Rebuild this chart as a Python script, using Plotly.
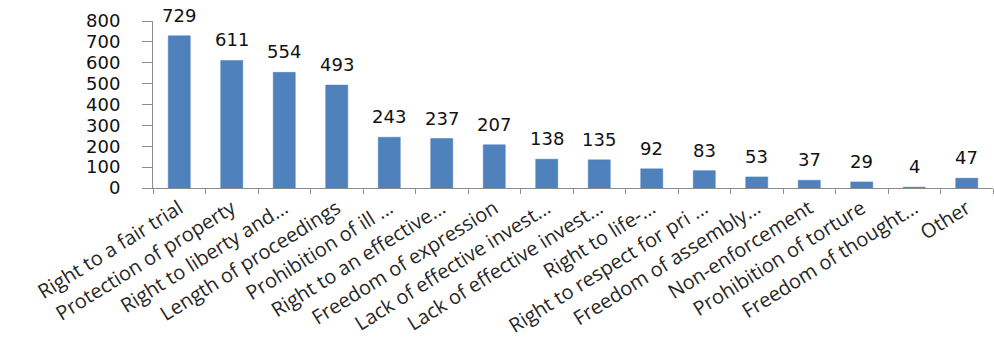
import plotly.graph_objects as go

categories = [
    "Right to a fair trial",
    "Protection of property",
    "Right to liberty and...",
    "Length of proceedings",
    "Prohibition of ill ...",
    "Right to an effective...",
    "Freedom of expression",
    "Lack of effective invest...",
    "Lack of effective invest...",
    "Right to life-...",
    "Right to respect for pri ...",
    "Freedom of assembly...",
    "Non-enforcement",
    "Prohibition of torture",
    "Freedom of thought...",
    "Other",
]
values = [729, 611, 554, 493, 243, 237, 207, 138, 135, 92, 83, 53, 37, 29, 4, 47]
y_ticks = [0, 100, 200, 300, 400, 500, 600, 700, 800]

# make duplicate labels unique for the category axis (invisible suffix)
seen = {}
xcats = []
for c in categories:
    n = seen.get(c, 0)
    xcats.append(c + "\u200b" * n)
    seen[c] = n + 1

fig = go.Figure()
fig.add_trace(go.Bar(
    x=xcats, y=values,
    marker=dict(color="#4F81BD", line=dict(color="#4A7EBB", width=0.5)),
    hoverinfo="x+y",
))

for xc, v in zip(xcats, values):
    fig.add_annotation(
        x=xc, y=v, text=str(v), showarrow=False,
        yanchor="bottom", yshift=9, borderpad=0,
        font=dict(family="DejaVu Sans", size=18, color="#111111"),
    )

fig.update_layout(
    width=994, height=362,
    margin=dict(l=153, r=1, t=21, b=174, autoexpand=False),
    paper_bgcolor="white", plot_bgcolor="white",
    bargap=0.58,
    showlegend=False,
)
fig.update_xaxes(
    type="category",
    tickangle=-32,
    tickfont=dict(family="Open Sans", size=20, color="#262626"),
    showline=True, linecolor="#8c8c8c", linewidth=1,
    ticks="outside", tickson="boundaries", ticklen=5, tickcolor="#8c8c8c",
    showgrid=False, automargin=False,
)
fig.update_yaxes(
    range=[0, 800],
    tickvals=y_ticks,
    tickfont=dict(family="DejaVu Sans", size=18, color="#111111"),
    showline=True, linecolor="#8c8c8c", linewidth=1,
    ticks="outside", ticklen=10, tickcolor="#8c8c8c",
    ticklabelstandoff=18,
    showgrid=False, zeroline=False, automargin=False,
)

fig.write_html(
    "out.html",
    config={"displayModeBar": False},
    post_script="document.body.style.margin='0px';document.body.style.overflow='hidden';",
)
